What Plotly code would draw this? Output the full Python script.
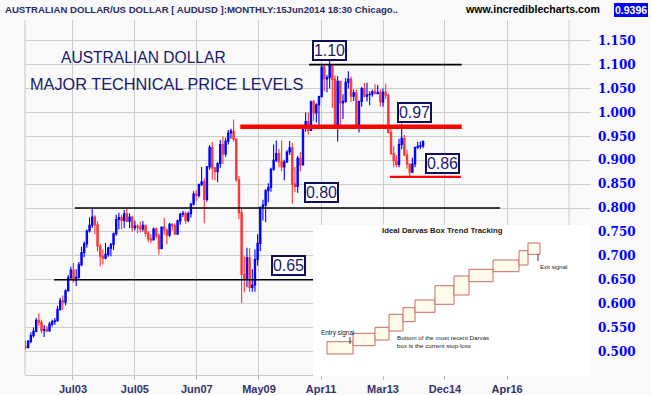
import plotly.graph_objects as go

# ---------------- data (monthly AUDUSD, Jan 2002 .. Jun 2014) ----------------
opens = [
    .5100, .5085, .5210, .5330, .5420, .5650, .5610, .5440, .5460, .5430, .5570, .5620,
    .5640, .5880, .6060, .6030, .6270, .6540, .6700, .6490, .6550, .6810, .7070, .7250,
    .7520, .7640, .7810, .7650, .7200, .6990, .6950, .7030, .7160, .7240, .7460, .7760,
    .7800, .7740, .7880, .7720, .7810, .7590, .7620, .7600, .7560, .7640, .7470, .7350,
    .7330, .7560, .7420, .7150, .7600, .7540, .7430, .7660, .7630, .7450, .7730, .7870,
    .7890, .7740, .7880, .8080, .8290, .8260, .8490, .8550, .8180, .8860, .9270, .8840,
    .8760, .8930, .9330, .9130, .9400, .9570, .9610, .9440, .8590, .7900, .6610, .6530,
    .6960, .6340, .6390, .6920, .7260, .8010, .8060, .8360, .8430, .8810, .9000, .9140,
    .8970, .8860, .8960, .9170, .9260, .8500, .8450, .9040, .8900, .9670, .9810, .9620,
    1.0220, .9990, 1.0160, 1.0330, 1.0950, 1.0700, 1.0730, 1.0980, 1.0690, .9750, 1.0650, 1.0200,
    1.0230, 1.0630, 1.0700, 1.0340, 1.0410, .9740, 1.0230, 1.0500, 1.0340, 1.0370, 1.0380, 1.0430,
    1.0390, 1.0420, 1.0220, 1.0420, 1.0360, .9580, .9140, .8990, .8910, .9330, .9460, .9110,
    .8920, .8750, .8920, .9270, .9290, .9300,
]
highs = [
    .5230, .5240, .5400, .5500, .5700, .5800, .5660, .5550, .5530, .5620, .5660, .5700,
    .5950, .6120, .6170, .6300, .6600, .6770, .6850, .6720, .6870, .7190, .7300, .7550,
    .7800, .8000, .7850, .7720, .7250, .7130, .7270, .7190, .7270, .7490, .7860, .7900,
    .7860, .7960, .7990, .7890, .7840, .7740, .7660, .7720, .7730, .7650, .7520, .7450,
    .7590, .7590, .7470, .7610, .7790, .7570, .7690, .7680, .7680, .7760, .7900, .7940,
    .7920, .7920, .8110, .8350, .8370, .8510, .8860, .8620, .8880, .9320, .9380, .8850,
    .8960, .9420, .9500, .9470, .9630, .9660, .9850, .9460, .8670, .8000, .6990, .7170,
    .7160, .6720, .7130, .7450, .8030, .8170, .8400, .8520, .8840, .9330, .9410, .9240,
    .9410, .9010, .9210, .9400, .9360, .8860, .9090, .9170, .9690, 1.0000, 1.0000, 1.0250,
    1.0260, 1.0190, 1.0350, 1.1010, 1.1010, 1.0780, 1.1080, 1.1000, 1.0770, 1.0760, 1.0660, 1.0380,
    1.0720, 1.0860, 1.0750, 1.0480, 1.0480, 1.0240, 1.0530, 1.0620, 1.0620, 1.0440, 1.0480, 1.0590,
    1.0580, 1.0480, 1.0500, 1.0600, 1.0390, .9720, .9290, .9110, .9450, .9760, .9530, .9220,
    .8930, .9050, .9280, .9380, .9390, .9410,
]
lows = [
    .5040, .5060, .5170, .5290, .5400, .5530, .5380, .5300, .5400, .5410, .5520, .5560,
    .5620, .5850, .5870, .5960, .6250, .6500, .6440, .6370, .6520, .6780, .6970, .7170,
    .7490, .7580, .7450, .7090, .6780, .6820, .6930, .6980, .6990, .7120, .7420, .7550,
    .7560, .7580, .7700, .7580, .7510, .7530, .7470, .7490, .7510, .7400, .7290, .7260,
    .7330, .7360, .7020, .7140, .7440, .7240, .7400, .7530, .7440, .7440, .7650, .7810,
    .7670, .7700, .7800, .8050, .8150, .8220, .8460, .7680, .8130, .8800, .8590, .8580,
    .8540, .8840, .8920, .9070, .9330, .9450, .9390, .8550, .7770, .6010, .6240, .6340,
    .6250, .6250, .6250, .6790, .7100, .7740, .7700, .8120, .8340, .8780, .8960, .8850,
    .8770, .8580, .8960, .9110, .8090, .8330, .8320, .8770, .8900, .9590, .9540, .9610,
    .9820, .9790, .9710, 1.0310, 1.0440, 1.0420, 1.0500, 1.0090, .9660, .9390, .9660, .9860,
    1.0200, 1.0500, 1.0220, 1.0240, .9690, .9580, 1.0120, 1.0310, 1.0230, 1.0150, 1.0330, 1.0380,
    1.0380, 1.0120, 1.0120, 1.0280, .9560, .9110, .8850, .8850, .8850, .9230, .9090, .8820,
    .8660, .8730, .8850, .9230, .9230, .9250,
]
closes = [
    .5085, .5210, .5330, .5420, .5650, .5610, .5440, .5460, .5430, .5570, .5620, .5640,
    .5880, .6060, .6030, .6270, .6540, .6700, .6490, .6550, .6810, .7070, .7250, .7520,
    .7640, .7810, .7650, .7200, .6990, .6950, .7030, .7160, .7240, .7460, .7760, .7800,
    .7740, .7880, .7720, .7810, .7590, .7620, .7600, .7560, .7640, .7470, .7350, .7330,
    .7560, .7420, .7150, .7600, .7540, .7430, .7660, .7630, .7450, .7730, .7870, .7890,
    .7740, .7880, .8080, .8290, .8260, .8490, .8550, .8180, .8860, .9270, .8840, .8760,
    .8930, .9330, .9130, .9400, .9570, .9610, .9440, .8590, .7900, .6610, .6530, .6960,
    .6340, .6390, .6920, .7260, .8010, .8060, .8360, .8430, .8810, .9000, .9140, .8970,
    .8860, .8960, .9170, .9260, .8500, .8450, .9040, .8900, .9670, .9810, .9620, 1.0220,
    .9990, 1.0160, 1.0330, 1.0950, 1.0700, 1.0730, 1.0980, 1.0690, .9750, 1.0650, 1.0200, 1.0230,
    1.0630, 1.0700, 1.0340, 1.0410, .9740, 1.0230, 1.0500, 1.0340, 1.0370, 1.0380, 1.0430, 1.0390,
    1.0420, 1.0220, 1.0420, 1.0360, .9580, .9140, .8990, .8910, .9330, .9460, .9110, .8920,
    .8750, .8920, .9270, .9290, .9300, .9396,
]
bar_index = list(range(len(closes)))

x_tick_labels = ["Jul03", "Jul05", "Jun07", "May09", "Apr11", "Mar13", "Dec14", "Apr16"]
x_tick_pos = [17.8, 41.0, 64.2, 87.5, 110.8, 134.0, 157.2, 180.5]
y_ticks = [0.50, 0.55, 0.60, 0.65, 0.70, 0.75, 0.80, 0.85, 0.90, 0.95, 1.00, 1.05, 1.10, 1.15]
y_tick_labels = ["%.3f" % v for v in y_ticks]

# price levels: (value, x start, x end, colour, width)
levels = [
    (0.80, 18.5, 177.9, "black", 1.6),
    (0.65, 10.7, 108.0, "black", 1.6),
    (1.10, 106.3, 163.5, "black", 1.6),
    (0.97, 80.5, 163.5, "#ff0000", 4.5),
    (0.865, 136.6, 163.2, "#ff0000", 2.2),
]
level_labels = ["1.10", "0.97", "0.86", "0.80", "0.65"]
level_label_pos = [(114.1, 1.1289), (145.7, 0.9998), (156.4, 0.8927), (111.1, 0.8328), (98.7, 0.6787)]

last_price = "0.9396"

# Darvas inset illustration boxes (inset pixel units: x from left, y from top)
darvas_boxes = [
    (14, 40, 116.7, 129), (40, 62, 108.3, 120.7), (62, 76, 102.3, 115), (76, 90, 89.3, 106),
    (90, 102, 82.7, 96.7), (102, 122, 75, 87.3), (122, 141, 60.7, 79.3), (141, 156, 51, 70),
    (156, 180, 44.3, 56.7), (180, 206, 35, 46.7), (206, 215, 25.7, 40), (215, 227, 18, 29.3),
]

# ---------------- layout geometry ----------------
W, H = 651, 395
L, R, T, B = 25, 60, 20, 20
PW, PH = W - L - R, H - T - B


def fx(px):
    return (px - L) / PW


def fy(py):
    return (H - B - py) / PH


NAVY = "#1a1a6e"
SANS = "Liberation Sans, Arial"

fig = go.Figure()
fig.add_trace(go.Candlestick(
    x=bar_index, open=opens, high=highs, low=lows, close=closes,
    increasing=dict(line=dict(color="#0000ff", width=1.1), fillcolor="#0000ff"),
    decreasing=dict(line=dict(color="#ff3333", width=1.1), fillcolor="#ff3333"),
    whiskerwidth=0, showlegend=False, hoverinfo="skip",
))

shapes = []
shapes.append(dict(type="line", xref="paper", yref="paper", x0=0, x1=0, y0=0, y1=1,
                   line=dict(color="#c8c8c8", width=1), layer="below"))
shapes.append(dict(type="line", xref="paper", yref="paper", x0=fx(569), x1=fx(569), y0=0, y1=1,
                   line=dict(color="#cccccc", width=1), layer="below"))
for v, xa, xb, col, w in levels:
    shapes.append(dict(type="line", xref="x", yref="y", x0=xa, x1=xb, y0=v, y1=v,
                       line=dict(color=col, width=w)))

# inset
IX0, IY0, IX1, IY1 = 313, 225, 591, 376
shapes.append(dict(type="rect", xref="paper", yref="paper", x0=fx(IX0), x1=fx(IX1),
                   y0=fy(IY1), y1=fy(IY0), fillcolor="white", line=dict(width=0)))
for bx0, bx1, by0, by1 in darvas_boxes:
    shapes.append(dict(type="rect", xref="paper", yref="paper",
                       x0=fx(IX0 + bx0), x1=fx(IX0 + bx1),
                       y0=fy(IY0 + by1), y1=fy(IY0 + by0),
                       fillcolor="#fffbea", line=dict(color="#c86a6a", width=1)))
shapes.append(dict(type="line", xref="paper", yref="paper", x0=fx(350), x1=fx(350),
                   y0=fy(344), y1=fy(337), line=dict(color="#333", width=1)))
shapes.append(dict(type="line", xref="paper", yref="paper", x0=fx(538), x1=fx(538),
                   y0=fy(261), y1=fy(254), line=dict(color="#333", width=1)))

ann = []
# header
ann.append(dict(xref="paper", yref="paper", x=fx(3), y=fy(9), xanchor="left", yanchor="middle",
                text="AUSTRALIAN DOLLAR/US DOLLAR [ AUDUSD ]:MONTHLY:15Jun2014 18:30 Chicago..",
                showarrow=False, font=dict(family=SANS, size=9.6, color="#2b2b66", weight="bold")))
ann.append(dict(xref="paper", yref="paper", x=fx(463), y=fy(9), xanchor="left", yanchor="middle",
                text="www.incrediblecharts.com", showarrow=False,
                font=dict(family=SANS, size=10.6, color="black", weight="bold")))
ann.append(dict(xref="paper", yref="paper", x=fx(648), y=fy(10), xanchor="right", yanchor="middle",
                text=last_price, showarrow=False, bgcolor="#0000ff", borderpad=1, borderwidth=0,
                font=dict(family=SANS, size=10.5, color="white", weight="bold")))
# title
ann.append(dict(xref="paper", yref="paper", x=fx(143), y=fy(58), xanchor="center", yanchor="middle",
                text="AUSTRALIAN DOLLAR", showarrow=False,
                font=dict(family=SANS, size=15.6, color=NAVY)))
ann.append(dict(xref="paper", yref="paper", x=fx(166), y=fy(84), xanchor="center", yanchor="middle",
                text="MAJOR TECHNICAL PRICE LEVELS", showarrow=False,
                font=dict(family=SANS, size=16.3, color=NAVY)))
# level boxes
for txt, (lx, ly) in zip(level_labels, level_label_pos):
    ann.append(dict(xref="x", yref="y", x=lx, y=ly, text=txt, showarrow=False,
                    xanchor="center", yanchor="middle", width=31, height=17,
                    bgcolor="white", bordercolor="#10105a", borderwidth=2, borderpad=0,
                    font=dict(family=SANS, size=16, color=NAVY)))
# inset texts
small = dict(family=SANS, color="#222")
ann.append(dict(xref="paper", yref="paper", x=fx(442.5), y=fy(230), xanchor="center", yanchor="middle",
                text="Ideal Darvas Box Trend Tracking", showarrow=False,
                font=dict(size=7.8, weight="bold", **small)))
ann.append(dict(xref="paper", yref="paper", x=fx(319), y=fy(333), xanchor="left", yanchor="middle",
                text="Entry signal", showarrow=False, font=dict(size=6.4, **small)))
ann.append(dict(xref="paper", yref="paper", x=fx(395), y=fy(337.5), xanchor="left", yanchor="middle",
                text="Bottom of the most recent Darvas", showarrow=False, font=dict(size=6.2, **small)))
ann.append(dict(xref="paper", yref="paper", x=fx(395), y=fy(345), xanchor="left", yanchor="middle",
                text="box is the current stop-loss", showarrow=False, font=dict(size=6.2, **small)))
ann.append(dict(xref="paper", yref="paper", x=fx(538), y=fy(266.5), xanchor="left", yanchor="middle",
                text="Exit signal", showarrow=False, font=dict(size=6.0, **small)))

x_lo = (L - 25.5) / 2.668
x_hi = x_lo + PW / 2.668
y_lo = 0.80 - (H - B - 208) / 478
y_hi = y_lo + PH / 478

fig.update_layout(
    width=W, height=H, margin=dict(l=L, r=R, t=T, b=B, autoexpand=False),
    paper_bgcolor="#f9f9f9", plot_bgcolor="#f9f9f9",
    shapes=shapes, annotations=ann, showlegend=False,
    xaxis=dict(range=[x_lo, x_hi], rangeslider=dict(visible=False), automargin=False,
               tickmode="array", tickvals=x_tick_pos, ticktext=x_tick_labels,
               showgrid=True, gridcolor="#cccccc", gridwidth=1, zeroline=False,
               showline=True, linecolor="#c8c8c8", linewidth=1,
               ticks="outside", ticklen=4, tickcolor="#bbbbbb",
               tickfont=dict(family=SANS, size=11, color="#33336b", weight="bold")),
    yaxis=dict(range=[y_lo, y_hi], side="right", tickmode="array", automargin=False,
               tickvals=y_ticks, ticktext=y_tick_labels,
               showgrid=True, gridcolor="#cccccc", gridwidth=1, zeroline=False,
               showline=False, ticks="", ticklabelstandoff=6,
               tickfont=dict(family="DejaVu Serif, Liberation Serif", size=12,
                             color="#0000ff", weight="bold")),
)

fig.write_html("out.html", config={"displayModeBar": False, "staticPlot": True},
               post_script="document.body.style.margin='0px';document.body.style.overflow='hidden';")
